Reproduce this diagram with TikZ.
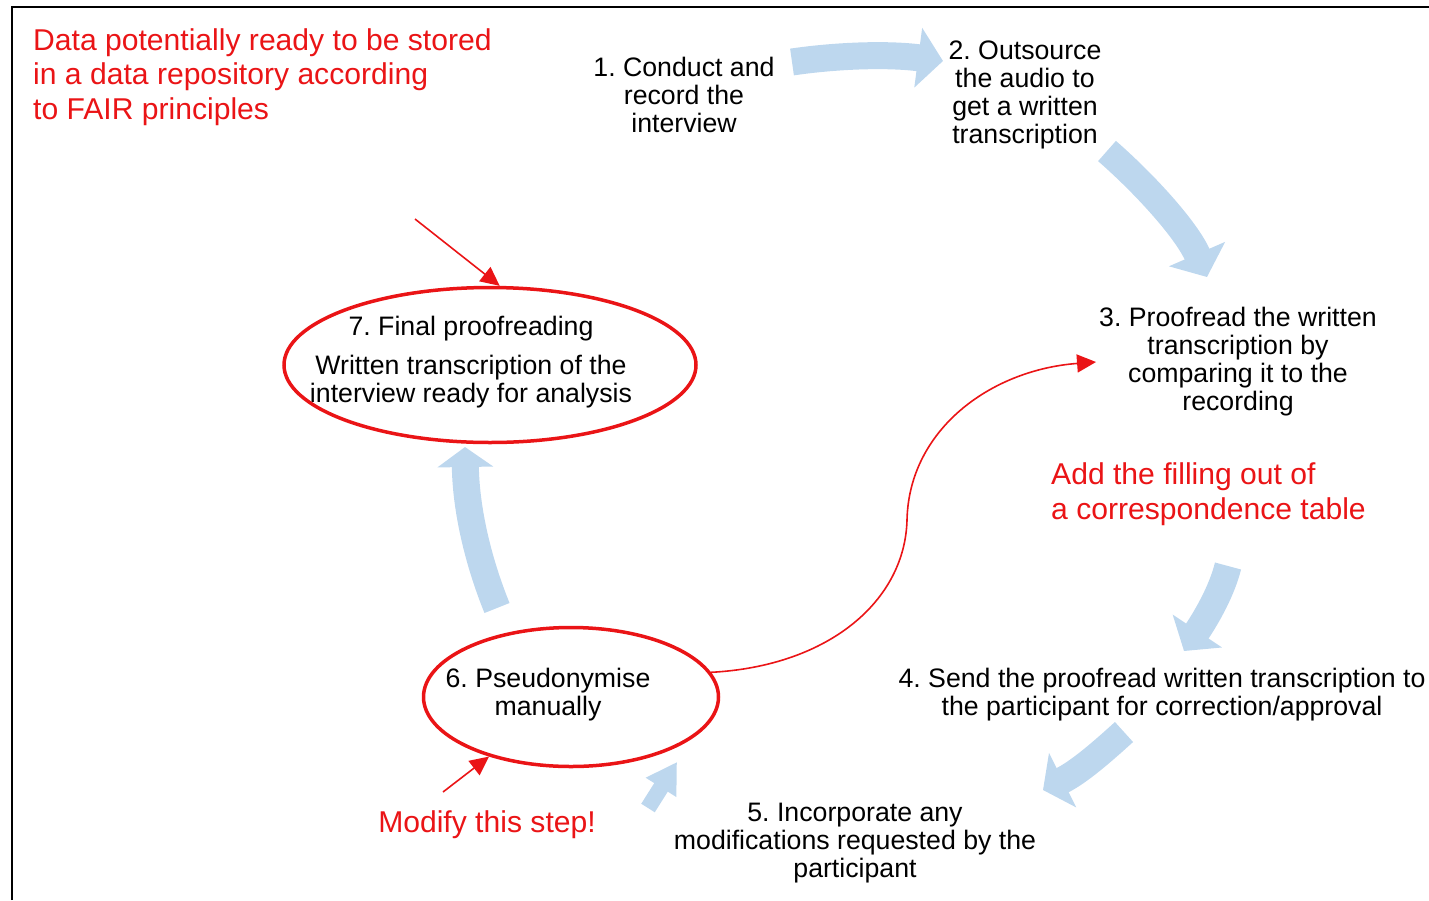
\documentclass[tikz,border=0pt]{standalone}
\usepackage{fontspec}
\setmainfont{Liberation Sans}
\usetikzlibrary{arrows.meta,shapes.geometric}

\definecolor{flowblue}{RGB}{189,215,238}
\definecolor{notered}{RGB}{234,20,22}

\tikzset{
  steptext/.style={align=center, inner sep=3pt, font=\fontsize{26.7}{28}\selectfont},
  notetext/.style={align=left, inner sep=0pt, text=notered, font=\fontsize{30.1}{34.5}\selectfont},
  stageoval/.style={ellipse, draw=notered, line width=3.5pt, inner sep=0pt},
  flow/.style={draw=flowblue, line width=27pt, line cap=butt},
  pointer/.style={draw=notered, line width=1.6pt, -{Triangle[length=19pt,width=18pt]}},
  framerule/.style={draw=black, line width=2pt}
}

\frenchspacing
\begin{document}
\begin{tikzpicture}[x=1pt,y=-1pt]
\useasboundingbox (0,0) rectangle (1429,900);

% frame
\draw[framerule] (12,900) -- (12,7) -- (1429,7);

% step labels
\node[steptext] (t1) at (684,95) {1. Conduct and\\record the\\interview};
\node[steptext] (t2) at (1025,95) {2. Outsource\\the audio to\\get a written\\transcription};
\node[steptext] (t3) at (1238,362) {3. Proofread the written\\transcription by\\comparing it to the\\recording};
\node[steptext] (t4) at (1162,695) {4. Send the proofread written transcription to\\the participant for correction/approval};
\node[steptext] (t5) at (855,843) {5. Incorporate any\\modifications requested by the\\participant};
\node[steptext] (t6) at (548,695) {6. Pseudonymise\\manually};
\node[steptext] (t7a) at (471,329) {7. Final proofreading};
\node[steptext] (t7b) at (471,382) {Written transcription of the\\interview ready for analysis};

% red notes
\node[notetext, anchor=west] (n1) at (33,77) {Data potentially ready to be stored\\in a data repository according\\to FAIR principles};
\node[notetext, anchor=west] (n2) at (1051,494) {Add the filling out of\\a correspondence table};
\node[notetext] (n3) at (487,825) {Modify this step!};

% highlighted stages
\node[stageoval, minimum width=412pt, minimum height=155pt] (e7) at (490,365) {};
\node[stageoval, minimum width=295pt, minimum height=139pt] (e6) at (571,697) {};

% block arrows of the cycle
\coordinate (a1s) at (792,62);
\coordinate (a1e) at (943,61);
\coordinate (a2s) at (1107,151);
\coordinate (a2e) at (1207,277);
\coordinate (a3s) at (1228,566);
\coordinate (a3e) at (1184,651);
\coordinate (a4s) at (1124,732);
\coordinate (a4e) at (1043,790);
\coordinate (a5s) at (648,808);
\coordinate (a5e) at (677,762);
\coordinate (a6s) at (497,608);
\coordinate (a6e) at (465,447);

\draw[flow, -{Triangle[length=25pt,width=59pt]}] (a1s) .. controls (840,55) and (890,54) .. (a1e);
\draw[flow, -{Triangle[length=25pt,width=60pt]}] (a2s) .. controls (1147,186) and (1187,231) .. (a2e);
\draw[flow, -{Triangle[length=24pt,width=58pt]}] (a3s) .. controls (1222,590) and (1208,615) .. (a3e);
\draw[flow, -{Triangle[length=22pt,width=60pt]}] (a4s) .. controls (1102,752) and (1079,772) .. (a4e);
\draw[flow, line width=16pt, -{Triangle[length=30pt,width=34pt]}] (a5s) -- (a5e);
\draw[flow, -{Triangle[length=20pt,width=55pt]}] (a6s) .. controls (478,561) and (466,510) .. (a6e);

% red pointers
\coordinate (p7) at (415,219);
\coordinate (p6) at (443,792);
\coordinate (bend) at (907,520);
\draw[pointer] (p7) -- (e7.83);
\draw[pointer] (p6) -- (e6.216);
\draw[pointer] (e6.10) .. controls (830,666) and (905,600) .. (bend)
  .. controls (909,430) and (990,370) .. (t3.west);
\end{tikzpicture}
\end{document}
